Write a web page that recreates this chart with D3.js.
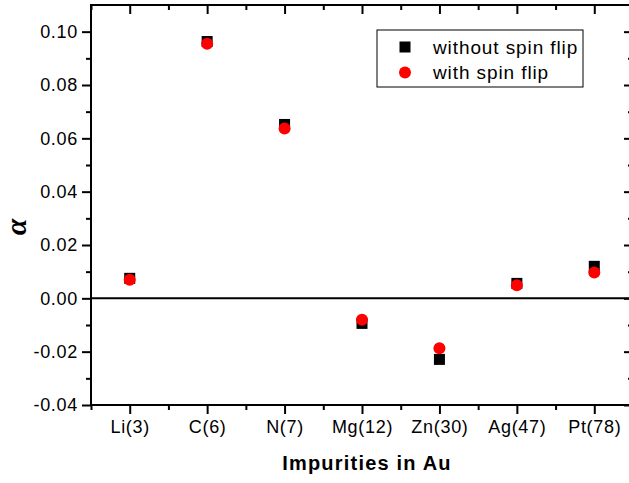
<!DOCTYPE html>
<meta charset="utf-8">
<script src="https://cdn.jsdelivr.net/npm/d3@7"></script>
<style>
  body { margin: 0; background: #fff; }
  text { font-family: "Liberation Sans", Arial, sans-serif; fill: #000; }
</style>
<body></body>
<script>
    var categories = ["Li(3)", "C(6)", "N(7)", "Mg(12)", "Zn(30)", "Ag(47)", "Pt(78)"];
    var withoutFlip = [0.0075, 0.0963, 0.0652, -0.0094, -0.0229, 0.0056, 0.0120];
    var withFlip = [0.0070, 0.0955, 0.0637, -0.0080, -0.0187, 0.0049, 0.0097];
    var yTicks = [-0.04, -0.02, 0.00, 0.02, 0.04, 0.06, 0.08, 0.10];
    var yMinor = [-0.03, -0.01, 0.01, 0.03, 0.05, 0.07, 0.09];

    var width = 629, height = 483;
    var pLeft = 91, pRight = 633, pTop = 5, pBottom = 405;

    var svg = d3.select("body").append("svg")
        .attr("width", width)
        .attr("height", height);

    var x = d3.scaleLinear()
        .domain([-0.5, categories.length - 0.5])
        .range([pLeft, pRight]);

    var y = d3.scaleLinear()
        .domain([-0.04, 0.11])
        .range([pBottom, pTop]);

    var idx = d3.range(categories.length);
    var xMinor = d3.range(-0.5, categories.length, 1);

    function styleAxis(g) {
      g.select(".domain").remove();
      g.selectAll("line").attr("stroke", "#000").attr("stroke-width", 2);
      g.selectAll("text").style("font-size", "18px").style("letter-spacing", "0.7px");
    }

    // plain hyphen for negatives, like the original
    var fmt = function(d) { return d3.format(".2f")(d).replace("\u2212", "-"); };

    // bottom axis
    svg.append("g")
        .attr("transform", "translate(0," + pBottom + ")")
        .call(d3.axisBottom(x).tickValues(idx).tickSize(9).tickPadding(6)
            .tickFormat(function(i) { return categories[i]; }))
        .call(styleAxis);
    svg.append("g")
        .attr("transform", "translate(0," + pBottom + ")")
        .call(d3.axisBottom(x).tickValues(xMinor).tickSize(5).tickFormat(""))
        .call(styleAxis);

    // top axis (inward ticks)
    svg.append("g")
        .attr("transform", "translate(0," + pTop + ")")
        .call(d3.axisBottom(x).tickValues(idx).tickSize(9).tickFormat(""))
        .call(styleAxis);
    svg.append("g")
        .attr("transform", "translate(0," + pTop + ")")
        .call(d3.axisBottom(x).tickValues(xMinor).tickSize(5).tickFormat(""))
        .call(styleAxis);

    // left axis
    svg.append("g")
        .attr("transform", "translate(" + pLeft + ",0)")
        .call(d3.axisLeft(y).tickValues(yTicks).tickSize(9).tickPadding(4)
            .tickFormat(fmt))
        .call(styleAxis);
    svg.append("g")
        .attr("transform", "translate(" + pLeft + ",0)")
        .call(d3.axisLeft(y).tickValues(yMinor).tickSize(5).tickFormat(""))
        .call(styleAxis);

    // right axis (inward ticks)
    svg.append("g")
        .attr("transform", "translate(" + pRight + ",0)")
        .call(d3.axisLeft(y).tickValues(yTicks).tickSize(9).tickFormat(""))
        .call(styleAxis);
    svg.append("g")
        .attr("transform", "translate(" + pRight + ",0)")
        .call(d3.axisLeft(y).tickValues(yMinor).tickSize(5).tickFormat(""))
        .call(styleAxis);

    // frame
    svg.append("rect")
        .attr("x", pLeft).attr("y", pTop)
        .attr("width", pRight - pLeft).attr("height", pBottom - pTop)
        .attr("fill", "none").attr("stroke", "#000").attr("stroke-width", 2);

    // zero line
    svg.append("line")
        .attr("x1", pLeft).attr("x2", pRight)
        .attr("y1", y(0)).attr("y2", y(0))
        .attr("stroke", "#000").attr("stroke-width", 2);

    // squares: without spin flip
    var s = 11;
    svg.append("g").selectAll("rect")
        .data(withoutFlip)
      .enter().append("rect")
        .attr("x", function(d, i) { return x(i) - s / 2; })
        .attr("y", function(d) { return y(d) - s / 2; })
        .attr("width", s).attr("height", s)
        .attr("fill", "#000");

    // circles: with spin flip
    svg.append("g").selectAll("circle")
        .data(withFlip)
      .enter().append("circle")
        .attr("cx", function(d, i) { return x(i); })
        .attr("cy", function(d) { return y(d); })
        .attr("r", 6)
        .attr("fill", "#ff0000");

    // axis titles
    svg.append("text")
        .attr("x", 367)
        .attr("y", 470)
        .attr("text-anchor", "middle")
        .style("font-size", "20px")
        .style("letter-spacing", "1.2px")
        .style("font-weight", "bold")
        .text("Impurities in Au");

    svg.append("text")
        .attr("transform", "translate(15,227) rotate(-90)")
        .attr("text-anchor", "middle")
        .attr("dominant-baseline", "central")
        .style("font-family", "'Liberation Serif', 'Times New Roman', serif")
        .style("font-size", "30px")
        .style("font-weight", "bold")
        .style("font-style", "italic")
        .text("α");

    // legend
    var legend = svg.append("g");
    legend.append("rect")
        .attr("x", 377).attr("y", 30)
        .attr("width", 206).attr("height", 57)
        .attr("fill", "#fff").attr("stroke", "#000").attr("stroke-width", 1);
    legend.append("rect")
        .attr("x", 405 - s / 2).attr("y", 47 - s / 2)
        .attr("width", s).attr("height", s)
        .attr("fill", "#000");
    legend.append("circle")
        .attr("cx", 405).attr("cy", 72.5).attr("r", 6)
        .attr("fill", "#ff0000");
    legend.append("text")
        .attr("x", 433).attr("y", 47)
        .attr("dominant-baseline", "central")
        .style("font-size", "19px")
        .style("letter-spacing", "0.9px")
        .text("without spin flip");
    legend.append("text")
        .attr("x", 433).attr("y", 72.5)
        .attr("dominant-baseline", "central")
        .style("font-size", "19px")
        .style("letter-spacing", "0.9px")
        .text("with spin flip");
</script>
